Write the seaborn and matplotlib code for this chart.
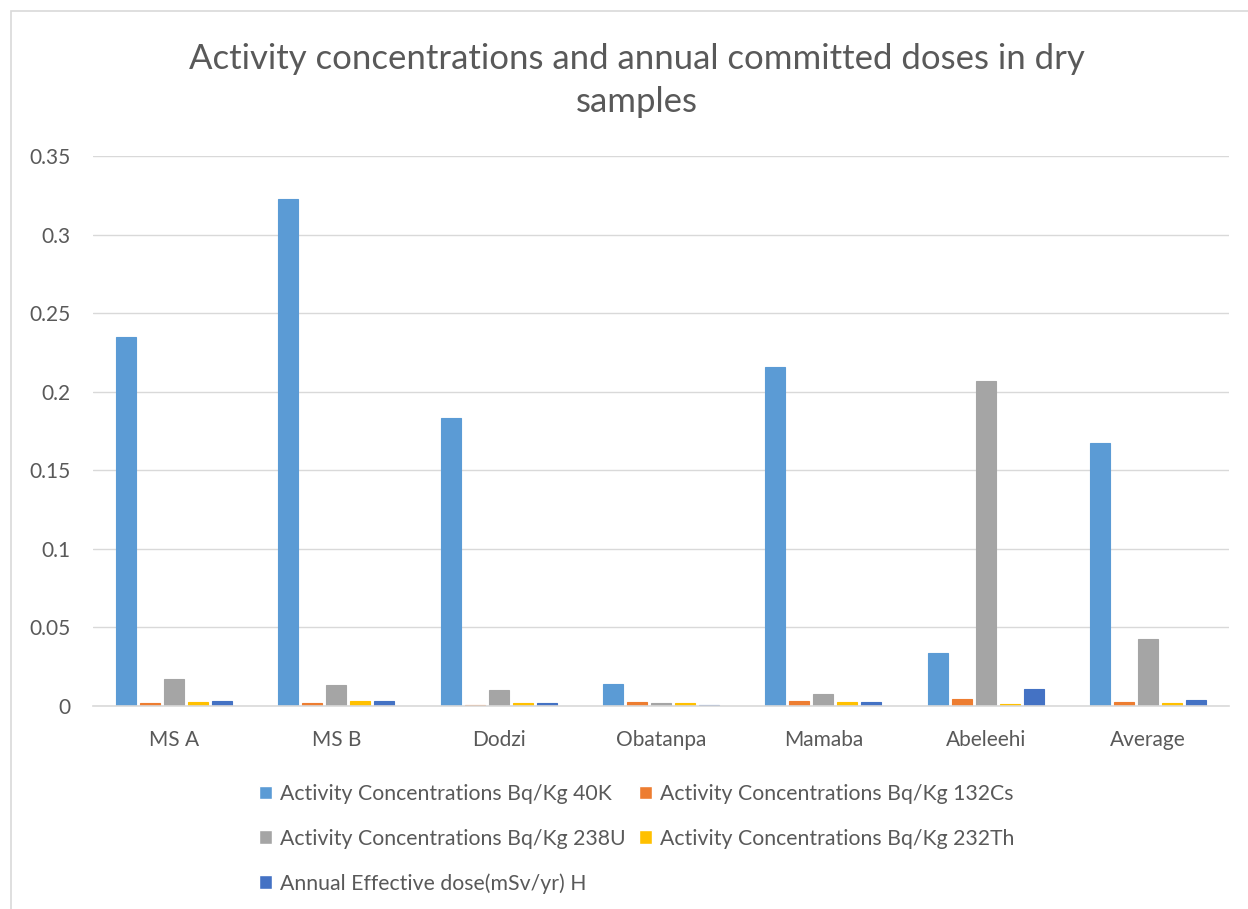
import pandas as pd
import matplotlib.pyplot as plt
import seaborn as sns
from matplotlib.patches import Rectangle, Patch

# chart data
samples = ['MS A', 'MS B', 'Dodzi', 'Obatanpa', 'Mamaba', 'Abeleehi', 'Average']
k40 = [0.235, 0.3225, 0.183, 0.014, 0.216, 0.0335, 0.1674]
cs132 = [0.0021, 0.0021, 0.0007, 0.0025, 0.0032, 0.0043, 0.0025]
u238 = [0.017, 0.0132, 0.0102, 0.0019, 0.0076, 0.207, 0.0427]
th232 = [0.0025, 0.003, 0.0017, 0.0017, 0.0025, 0.0013, 0.0019]
dose_h = [0.003, 0.0034, 0.0021, 0.0005, 0.0025, 0.0106, 0.0038]

series_names = ['Activity Concentrations Bq/Kg 40K',
                'Activity Concentrations Bq/Kg 132Cs',
                'Activity Concentrations Bq/Kg 238U',
                'Activity Concentrations Bq/Kg 232Th',
                'Annual Effective dose(mSv/yr) H']
colors = ['#5B9BD5', '#ED7D31', '#A5A5A5', '#FFC000', '#4472C4']

# long-form table for seaborn
rows = []
for name, vals in zip(series_names, [k40, cs132, u238, th232, dose_h]):
    for s, v in zip(samples, vals):
        rows.append({'Sample': s, 'Series': name, 'Value': v})
df = pd.DataFrame(rows)

sns.set_style('white')
plt.rcParams['font.family'] = ['Lato', 'DejaVu Sans']
text_color = '#595959'

fig = plt.figure(figsize=(12.48, 9.09), dpi=100)
ax = fig.add_axes([93 / 1248, 1 - 706 / 909, (1229 - 93) / 1248, (706 - 156) / 909])

sns.barplot(data=df, x='Sample', y='Value', hue='Series', palette=colors,
            width=0.74, gap=0.17, ax=ax, legend=False, saturation=1,
            linewidth=0.8)
# thin edge in the bar colour so tiny bars stay visible
for patch in ax.patches:
    patch.set_edgecolor(patch.get_facecolor())

ax.set_ylim(0, 0.35)
ax.set_yticks([0, 0.05, 0.1, 0.15, 0.2, 0.25, 0.3, 0.35])
ax.set_yticklabels(['0', '0.05', '0.1', '0.15', '0.2', '0.25', '0.3', '0.35'])
ax.set_xlim(-0.5, len(samples) - 0.5)
ax.set_xlabel('')
ax.set_ylabel('')
ax.yaxis.grid(True, color='#D9D9D9', linewidth=1)
ax.set_axisbelow(True)
for side in ['left', 'right', 'top']:
    ax.spines[side].set_visible(False)
ax.spines['bottom'].set_color('#D9D9D9')
ax.spines['bottom'].set_linewidth(1.2)
ax.tick_params(axis='both', length=0, labelsize=15, colors=text_color)
ax.tick_params(axis='x', pad=17)
ax.tick_params(axis='y', pad=16)

fig.text(0.51, 1 - 59 / 909, 'Activity concentrations and annual committed doses in dry',
         ha='center', va='center', fontsize=25, color=text_color)
fig.text(0.51, 1 - 102 / 909, 'samples',
         ha='center', va='center', fontsize=25, color=text_color)

# legend laid out row by row like the original
handles = [Patch(facecolor=c, label=n) for c, n in zip(colors, series_names)]
order = [0, 2, 4, 1, 3]
fig.legend([handles[i] for i in order], [series_names[i] for i in order],
           ncol=2, frameon=False, loc='upper left',
           bbox_to_anchor=(240 / 1248, 1 - 765 / 909),
           fontsize=15.3, labelcolor=text_color, handlelength=0.6, handleheight=0.6,
           handletextpad=0.4, columnspacing=0.6, labelspacing=1.15)

# outer chart border
fig.patches.append(Rectangle((11 / 1248, -0.1), 1.2, 1 - 11 / 909 + 0.1,
                             transform=fig.transFigure, fill=False,
                             edgecolor='#D9D9D9', linewidth=1.2))

fig.savefig('out.png', dpi=100, facecolor='white')
